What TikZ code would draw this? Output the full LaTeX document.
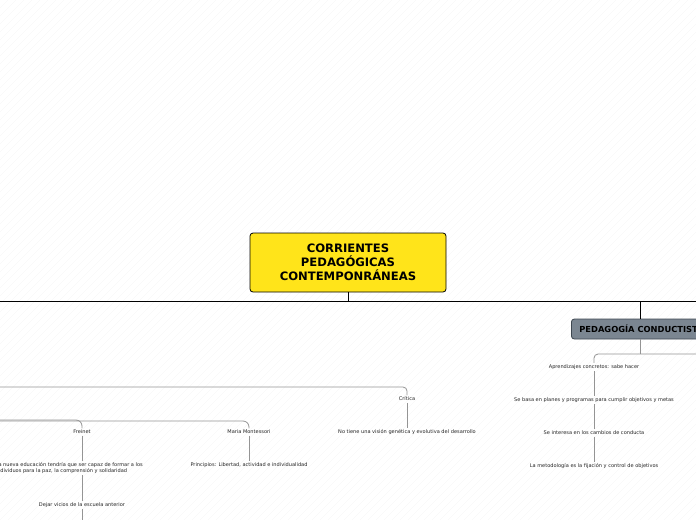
\documentclass[tikz,border=0pt]{standalone}
\usepackage{fontspec}
\setmainfont{DejaVu Sans}
\definecolor{rootyellow}{HTML}{FFE41A}
\definecolor{condfill}{HTML}{7B8691}
\definecolor{conddraw}{HTML}{3E4750}
\begin{document}
\begin{tikzpicture}[x=1pt,y=-1pt,
  small/.style={font=\fontsize{5.05}{6.5}\selectfont, text=black!85, inner sep=1.5pt},
  sub/.style={draw=black!42, line width=0.8pt, rounded corners=4pt},
  main/.style={draw=black, line width=1pt, rounded corners=4pt},
  stripe/.style={draw=black!5, line width=0.3pt}]
\useasboundingbox (0,0) rectangle (696,520);
\clip (0,0) rectangle (696,520);
\foreach \i in {-520,-512,...,696} \draw[stripe] (\i,520) -- (\i+520,0);

% root
\node[draw=black, fill=rootyellow, rounded corners=3pt, line width=0.8pt,
      minimum width=196pt, minimum height=59pt, align=center,
      font=\bfseries\fontsize{11.6}{14}\selectfont] (root) at (348,262.5)
      {CORRIENTES\\PEDAGÓGICAS\\CONTEMPONRÁNEAS};
\coordinate (busL) at (0,301);
\coordinate (busR) at (696,301);
\draw[main] (root.south) -- (root.south |- busL);
\draw[main] (busL) -- (busR);

% conductista branch
\node[draw=conddraw, fill=condfill, rounded corners=3pt, line width=0.8pt,
      anchor=west, minimum height=20pt, inner xsep=8pt,
      font=\bfseries\fontsize{8.3}{10}\selectfont] (cond) at (571,329)
      {PEDAGOGÍA CONDUCTISTA};
\coordinate (condTop) at (640,319);
\coordinate (condBot) at (640,339);
\draw[main] (condTop |- busL) -- (condTop);

\node[small] (a1) at (594,367) {Aprendizajes concretos: sabe hacer};
\node[small] (a2) at (594,400) {Se basa en planes y programas para cumplir objetivos y metas};
\node[small] (a3) at (594,433) {Se interesa en los cambios de conducta};
\node[small] (a4) at (594,466) {La metodología es la fijación y control de objetivos};
\coordinate (cbR) at (696,354);
\draw[sub] (condBot) -- (condBot |- cbR);
\draw[sub] (a1.north) |- (cbR);
\draw[sub] (a1.south) -- (a2.north);
\draw[sub] (a2.south) -- (a3.north);
\draw[sub] (a3.south) -- (a4.north);

% left side
\node[small] (crit) at (407,399) {Crítica};
\node[small] (crit2) at (407,432) {No tiene una visión genética y evolutiva del desarrollo};
\coordinate (critL) at (0,387);
\draw[sub] (critL) -| (crit.north);
\draw[sub] (crit.south) -- (crit2.north);

\node[small] (fre) at (82,432) {Freinet};
\node[small] (mont) at (249,432) {Maria Montessori};
\coordinate (freL) at (0,420);
\coordinate (montL) at (0,421);
\draw[sub, rounded corners=6pt] (freL) -| (fre.north);
\draw[sub, rounded corners=6pt] (montL) -| (mont.north);

\node[small, align=left, anchor=north west] (f1) at (-6,460.5)
  {La nueva educación tendría que ser capaz de formar a los\\individuos para la paz, la comprensión y solidaridad};
\node[small] (f2) at (82,505) {Dejar vicios de la escuela anterior};
\coordinate (fB) at (82,520);
\draw[sub] (fre.south) -- (fre.south |- f1.north);
\draw[sub] (f2.north |- f1.south) -- (f2.north);
\draw[sub] (f2.south) -- (fB);

\node[small] (m1) at (249,465) {Principios: Libertad, actividad e individualidad};
\draw[sub] (mont.south) -- (m1.north);
\end{tikzpicture}
\end{document}
